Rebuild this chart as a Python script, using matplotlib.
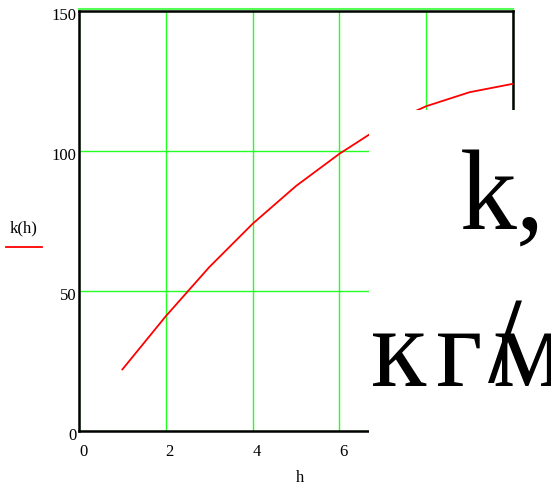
import numpy as np
import matplotlib.pyplot as plt
import matplotlib.transforms as mtransforms
from matplotlib.patches import Rectangle
from matplotlib.lines import Line2D

plt.rcParams['font.family'] = ['Liberation Serif', 'DejaVu Serif']

# k(h) values
h = [1, 2, 3, 4, 5, 6, 7, 8, 9, 10]
k = [22, 41, 58.5, 74, 87.5, 99, 109, 116, 121, 124]
xticks = [0, 2, 4, 6, 8, 10]
yticks = [0, 50, 100, 150]

fig = plt.figure(figsize=(5.51, 4.88), dpi=100)
ax = fig.add_axes([79/551, 1-431/488, 434/551, 420/488])

ax.plot(h, k, color='red', lw=1.3, zorder=3)
ax.set_xlim(0, 10)
ax.set_ylim(0, 150)
ax.set_xticks(xticks)
ax.set_yticks(yticks)
ax.grid(True, color='#22ff22', lw=1)
ax.tick_params(length=0, labelsize=12, colors='black')
ax.tick_params(axis='x', pad=9)
ax.tick_params(axis='y', pad=2)
for s in ax.spines.values():
    s.set_color('black')
    s.set_linewidth(1.8)

# nudge tick labels
for lab in ax.get_xticklabels():
    lab.set_transform(lab.get_transform() + mtransforms.ScaledTranslation(4/100, 0, fig.dpi_scale_trans))
for lab in ax.get_yticklabels():
    lab.set_transform(lab.get_transform() + mtransforms.ScaledTranslation(0, -3/100, fig.dpi_scale_trans))

# green line just above the top frame
fig.add_artist(Line2D([79/551, 513/551], [1-9/488, 1-9/488], color='#55ff55', lw=1.5))

fig.text(300/551, 1-478/488, 'h', fontsize=12, ha='center', va='center')
fig.text(24/551, 1-228/488, 'k(h)', fontsize=12, ha='center', va='center')
fig.add_artist(Line2D([6/551, 42/551], [1-247/488, 1-247/488], color='red', lw=1.3))

# white box with the units caption
fig.add_artist(Rectangle((369/551, 0), 1-369/551, 1-110/488, transform=fig.transFigure,
                         facecolor='white', edgecolor='none', zorder=5))
big = 82
fig.text(460/551, 1-229/488, 'k,', fontsize=big, ha='left', va='baseline', zorder=6)
fig.text(371/551, 1-386/488, 'к', fontsize=big, ha='left', va='baseline', zorder=6)
fig.text(436/551, 1-386/488, 'г', fontsize=big, ha='left', va='baseline', zorder=6)
fig.text(492/551, 1-386/488, 'м', fontsize=big, ha='left', va='baseline', zorder=6)
fig.text(488/551, 1-382/488, '/', fontsize=big + 6, ha='left', va='baseline',
         fontweight='light', zorder=7)

fig.savefig('out.png', dpi=100)
